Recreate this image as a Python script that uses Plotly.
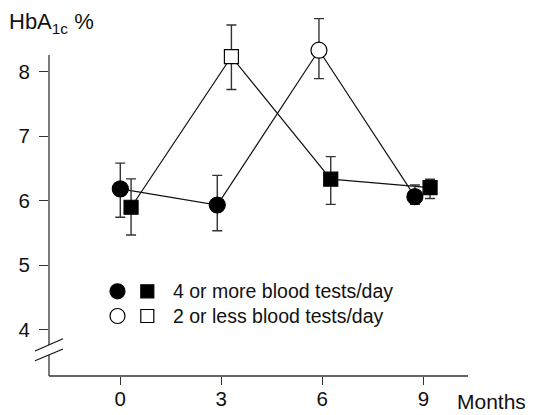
import plotly.graph_objects as go

# ---- data ----
tick_months = [0, 3, 6, 9]
tick_labels = ["0", "3", "6", "9"]
y_ticks = [4, 5, 6, 7, 8]

# group plotted with circles
circle_months = [0.0, 2.88, 5.9, 8.75]
circle_hba1c = [6.18, 5.93, 8.33, 6.06]
circle_err_plus = [0.40, 0.46, 0.49, 0.18]
circle_err_minus = [0.44, 0.40, 0.44, 0.12]
circle_filled = [True, True, False, True]

# group plotted with squares
square_months = [0.32, 3.3, 6.25, 9.2]
square_hba1c = [5.895, 8.23, 6.33, 6.20]
square_err_plus = [0.44, 0.49, 0.35, 0.13]
square_err_minus = [0.43, 0.51, 0.39, 0.17]
square_filled = [True, False, True, True]

legend_labels = ["4 or more blood tests/day", "2 or less blood tests/day"]

# ---- layout geometry ----
# the page body has an 8px margin, so the figure is drawn 8px in from the corner
OFF = 8
WIN_W, WIN_H = 533, 415
W, H = WIN_W - OFF, WIN_H - OFF
PLOT_L, PLOT_R, PLOT_T, PLOT_B = 49, 468, 10, 376   # window pixels
ML, MR, MT, MB = PLOT_L - OFF, WIN_W - PLOT_R, PLOT_T - OFF, WIN_H - PLOT_B
PW, PH = PLOT_R - PLOT_L, PLOT_B - PLOT_T
FONT = "Liberation Sans, Arial, sans-serif"
INK = "#111111"
AX = "#333333"


def px(x, y):
    """window pixel -> paper coords"""
    return (x - PLOT_L) / PW, (PLOT_B - y) / PH


fig = go.Figure()

# connecting lines first
fig.add_trace(go.Scatter(x=circle_months, y=circle_hba1c, mode="lines",
                         line=dict(color=INK, width=1.2), hoverinfo="skip",
                         showlegend=False))
fig.add_trace(go.Scatter(x=square_months, y=square_hba1c, mode="lines",
                         line=dict(color=INK, width=1.2), hoverinfo="skip",
                         showlegend=False))

# markers with error bars
fig.add_trace(go.Scatter(
    x=circle_months, y=circle_hba1c, mode="markers", showlegend=False,
    marker=dict(symbol="circle", size=16,
                color=["black" if f else "white" for f in circle_filled],
                line=dict(color="black", width=1.2)),
    error_y=dict(type="data", symmetric=False, array=circle_err_plus,
                 arrayminus=circle_err_minus, color=AX, thickness=1.4, width=5),
    cliponaxis=False))
fig.add_trace(go.Scatter(
    x=square_months, y=square_hba1c, mode="markers", showlegend=False,
    marker=dict(symbol="square", size=14,
                color=["black" if f else "white" for f in square_filled],
                line=dict(color="black", width=1.2)),
    error_y=dict(type="data", symmetric=False, array=square_err_plus,
                 arrayminus=square_err_minus, color=AX, thickness=1.4, width=5),
    cliponaxis=False))

# ---- axes lines (with break on y) ----
shapes = []
line = dict(color=AX, width=1.3)
shapes.append(dict(type="line", xref="paper", yref="paper", x0=0, x1=1, y0=0, y1=0, line=line))
_, ya = px(0, 345)
_, yb = px(0, 55)
shapes.append(dict(type="line", xref="paper", yref="paper", x0=0, x1=0, y0=ya, y1=yb, line=line))
_, yc = px(0, 355)
shapes.append(dict(type="line", xref="paper", yref="paper", x0=0, x1=0, y0=0, y1=yc, line=line))
for (xa, ya_, xb, yb_) in [(35, 351, 63, 338.7), (35, 360.7, 63, 349)]:
    p0 = px(xa, ya_)
    p1 = px(xb, yb_)
    shapes.append(dict(type="line", xref="paper", yref="paper",
                       x0=p0[0], y0=p0[1], x1=p1[0], y1=p1[1],
                       line=dict(color=INK, width=1.2)))


def circ(cx, cy, d, fill):
    a = px(cx - d / 2, cy + d / 2)
    b = px(cx + d / 2, cy - d / 2)
    return dict(type="circle", xref="paper", yref="paper", x0=a[0], y0=a[1],
                x1=b[0], y1=b[1], fillcolor=fill, line=dict(color="black", width=1.2))


def sq(cx, cy, d, fill):
    a = px(cx - d / 2, cy + d / 2)
    b = px(cx + d / 2, cy - d / 2)
    return dict(type="rect", xref="paper", yref="paper", x0=a[0], y0=a[1],
                x1=b[0], y1=b[1], fillcolor=fill, line=dict(color="black", width=1.2))


shapes += [circ(117.5, 291.3, 15, "black"), sq(147.3, 291.3, 13, "black"),
           circ(117.5, 316, 15, "white"), sq(147.3, 316, 13, "white")]

annotations = []
for label, yy in zip(legend_labels, [291.3, 316]):
    ax_, ay_ = px(171, yy)
    annotations.append(dict(xref="paper", yref="paper", x=ax_, y=ay_, text=label,
                            showarrow=False, xanchor="left", yanchor="middle",
                            font=dict(family=FONT, size=19.5, color=INK)))
tx, ty = px(7, 23)
annotations.append(dict(xref="paper", yref="paper", x=tx, y=ty,
                        text="HbA<sub>1c</sub> %", showarrow=False,
                        xanchor="left", yanchor="middle",
                        font=dict(family=FONT, size=22, color=INK)))
mx, my = px(455, 401)
annotations.append(dict(xref="paper", yref="paper", x=mx, y=my, text="Months",
                        showarrow=False, xanchor="left", yanchor="middle",
                        font=dict(family=FONT, size=21, color=INK)))

x_range = [(PLOT_L - 120.3) / 33.67, (PLOT_R - 120.3) / 33.67]
y_range = [4 - (PLOT_B - 329.5) / 64.5, 4 + (329.5 - PLOT_T) / 64.5]

fig.update_layout(
    width=W, height=H, margin=dict(l=ML, r=MR, t=MT, b=MB, autoexpand=False),
    paper_bgcolor="white", plot_bgcolor="white",
    shapes=shapes, annotations=annotations, showlegend=False,
    font=dict(family=FONT, color=INK),
    xaxis=dict(range=x_range, tickvals=tick_months, ticktext=tick_labels,
               showgrid=False, zeroline=False, showline=False, automargin=False,
               ticks="outside", ticklen=8, tickwidth=1.3, tickcolor=AX,
               ticklabelstandoff=-4,
               tickfont=dict(family=FONT, size=20.5, color=INK)),
    yaxis=dict(range=y_range, tickvals=y_ticks, automargin=False,
               showgrid=False, zeroline=False, showline=False,
               ticks="outside", ticklen=9, tickwidth=1.3, tickcolor=AX,
               ticklabelstandoff=5,
               tickfont=dict(family=FONT, size=20.5, color=INK)),
)

fig.write_html("out.html")
